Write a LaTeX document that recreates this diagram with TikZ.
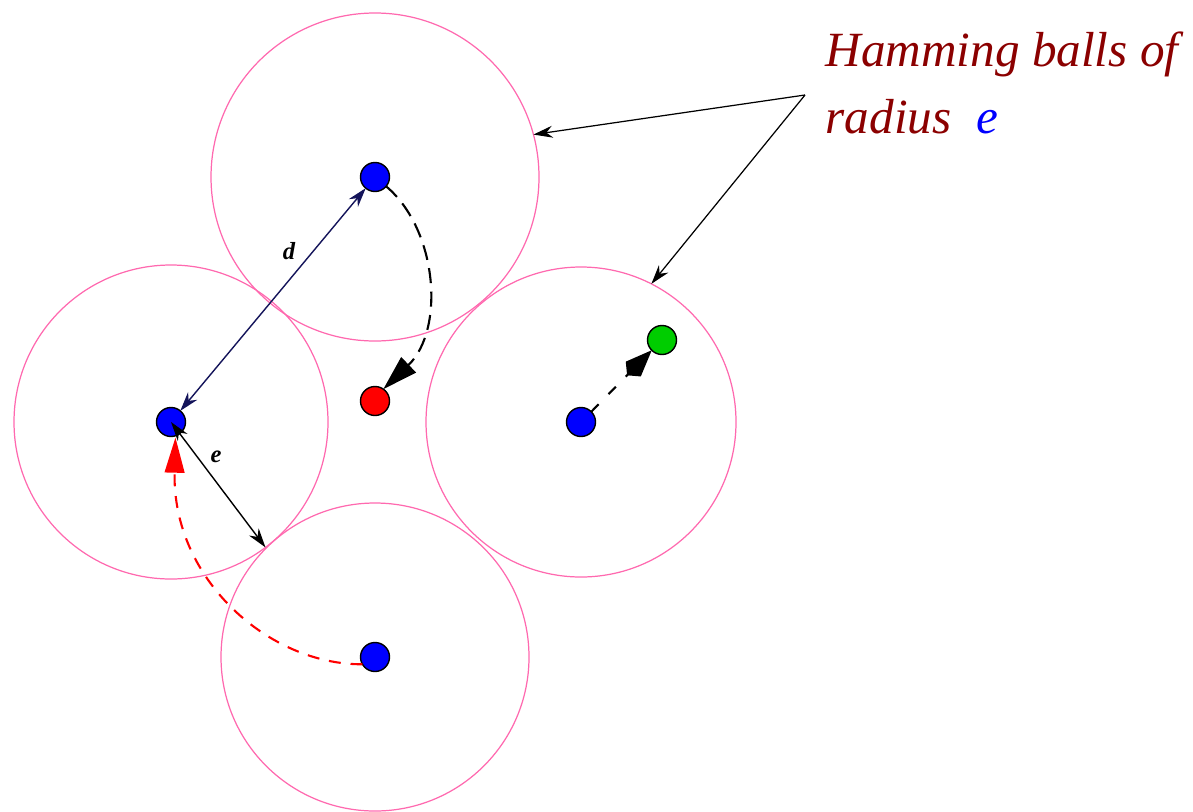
\documentclass[tikz,border=0pt]{standalone}
\usepackage{fontspec}
\setmainfont{Liberation Serif}
\usetikzlibrary{arrows.meta}

\definecolor{ballpink}{RGB}{255,105,175}
\definecolor{notered}{RGB}{139,0,0}
\definecolor{dotgreen}{RGB}{0,205,0}
\definecolor{distnavy}{RGB}{20,20,90}

\begin{document}
\begin{tikzpicture}[>={Stealth[length=5.5pt,width=3.4pt]},
    ball/.style={circle, draw=ballpink, line width=0.35pt, inner sep=0pt, outer sep=0pt},
    word/.style={circle, draw=black, line width=0.4pt, inner sep=0pt, outer sep=0pt, minimum size=0.29cm},
    dist/.style={font=\fontsize{7}{8}\selectfont\bfseries\itshape},
    note/.style={font=\fontsize{14}{19}\selectfont\itshape, text=notered, anchor=base west, inner sep=0pt}]
  \useasboundingbox (0,0) rectangle (11.93,-8.11);
  % --- Hamming balls ---
  \node[ball, minimum size=3.28cm] (ct) at (3.75,-1.77) {};
  \node[ball, minimum size=3.14cm] (cl) at (1.71,-4.22) {};
  \node[ball, minimum size=3.10cm] (cr) at (5.81,-4.22) {};
  \node[ball, minimum size=3.08cm] (cb) at (3.75,-6.57) {};
  % --- codewords and received words ---
  \node[word, fill=blue] (bt) at (3.75,-1.77) {};
  \node[word, fill=blue] (bl) at (1.71,-4.22) {};
  \node[word, fill=blue] (br) at (5.81,-4.22) {};
  \node[word, fill=blue] (bb) at (3.75,-6.57) {};
  \node[word, fill=red] (rd) at (3.75,-4.01) {};
  \node[word, fill=dotgreen] (gd) at (6.62,-3.40) {};
  % distance and radius
  \draw[<->, distnavy, line width=0.4pt] (bl) -- (bt);
  \node[dist] (dl) at (2.89,-2.51) {d};
  \draw[<->, line width=0.4pt] (bl.center) -- (cl.-53);
  \node[dist] (el) at (2.16,-4.57) {e};
  % error paths
  \draw[line width=0.6pt, dash pattern=on 4.3pt off 2.4pt,
        -{Triangle[length=10pt,width=6pt]}]
    (bt.-40) .. controls (4.38,-2.30) and (4.45,-3.30) .. (rd.55);
  \draw[red, line width=0.6pt, dash pattern=on 3.4pt off 2.8pt,
        -{Triangle[length=10pt,width=5.6pt]}, shorten >=0.5pt]
    (bb.210) .. controls (2.70,-6.65) and (1.72,-5.80) .. (bl.-72);
  \draw[line width=0.6pt, dash pattern=on 3pt off 4pt,
        -{Kite[length=10pt,width=6pt,inset=2.5pt]}]
    (br.45) -- (gd.225);
  % --- label ---
  \coordinate (hb) at (8.05,-0.95);
  \draw[->, line width=0.35pt] (hb) -- (ct.15);
  \draw[->, line width=0.35pt] (hb) -- (cr.63);
  \node[note] (lab1) at (8.25,-0.66) {Hamming balls of};
  \node[note] (lab2) at (8.25,-1.33) {radius~~\textcolor{blue}{e}};
\end{tikzpicture}
\end{document}
